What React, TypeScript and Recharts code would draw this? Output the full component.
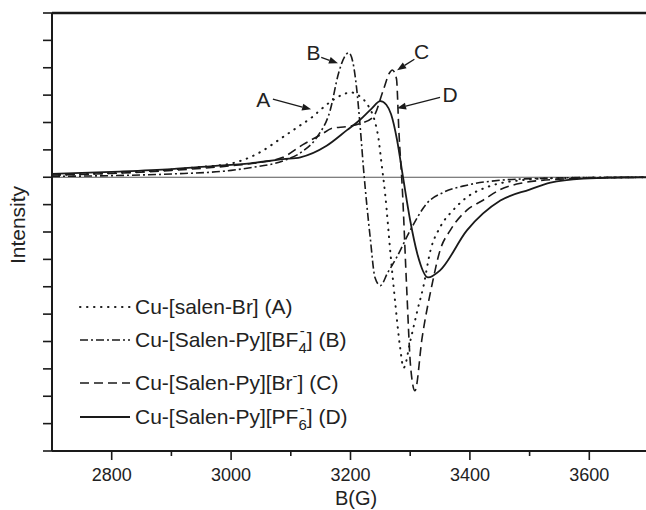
import { LineChart, Line, XAxis, YAxis, ReferenceLine, ReferenceDot } from "recharts";

// B(G) field positions and intensities for each spectrum
const fieldsA = [2700, 2800, 2900, 2950, 3000, 3044, 3087, 3116, 3136, 3149, 3166, 3185, 3200, 3216, 3230, 3240, 3247, 3252, 3258, 3267, 3275, 3283, 3289, 3300, 3312, 3322, 3334, 3350, 3372, 3395, 3430, 3480, 3550, 3700];
const intensityA = [0.08, 0.15, 0.28, 0.38, 0.5, 0.86, 1.47, 1.9, 2.2, 2.45, 2.75, 3.0, 3.1, 2.95, 2.6, 2.1, 1.4, 0.5, -0.6, -2.8, -4.6, -6.2, -6.96, -6.0, -4.87, -4.0, -2.67, -1.83, -1.2, -0.73, -0.35, -0.12, -0.03, 0];

const fieldsB = [2700, 2800, 2900, 3000, 3032, 3087, 3120, 3144, 3166, 3180, 3190, 3197, 3204, 3210, 3216, 3222, 3233, 3241, 3250, 3262, 3278, 3300, 3328, 3356, 3395, 3451, 3520, 3600, 3700];
const intensityB = [0.03, 0.06, 0.12, 0.25, 0.35, 0.6, 0.95, 1.47, 2.45, 3.8, 4.4, 4.55, 4.2, 3.3, 1.9, 0.26, -2.2, -3.66, -3.96, -3.5, -2.9, -1.94, -0.95, -0.55, -0.29, -0.11, -0.04, -0.01, 0];

const fieldsC = [2700, 2800, 2900, 3000, 3050, 3087, 3121, 3150, 3171, 3194, 3215, 3238, 3255, 3265, 3270, 3277, 3281, 3287, 3294, 3301, 3308, 3320, 3337, 3350, 3367, 3395, 3422, 3451, 3485, 3550, 3650, 3700];
const intensityC = [0.08, 0.14, 0.25, 0.42, 0.55, 0.73, 1.2, 1.55, 1.8, 1.85, 1.95, 2.2, 3.19, 3.8, 3.92, 3.6, 1.7, -0.5, -4.0, -7.0, -7.8, -5.86, -3.88, -2.67, -1.94, -1.2, -0.84, -0.45, -0.22, -0.07, -0.01, 0];

const fieldsD = [2700, 2800, 2900, 2965, 3032, 3087, 3116, 3160, 3194, 3216, 3235, 3250, 3260, 3268, 3278, 3288, 3300, 3312, 3330, 3350, 3395, 3451, 3500, 3535, 3590, 3650, 3700];
const intensityD = [0.12, 0.2, 0.3, 0.4, 0.51, 0.66, 0.73, 1.15, 1.72, 2.1, 2.5, 2.78, 2.65, 2.3, 1.36, 0, -1.58, -2.8, -3.66, -3.4, -1.94, -0.85, -0.45, -0.2, -0.05, -0.01, 0];

const xTicks = [2800, 2900, 3000, 3100, 3200, 3300, 3400, 3500, 3600];
const yTicks = [-10, -9, -8, -7, -6, -5, -4, -3, -2, -1, 0, 1, 2, 3, 4, 5, 6];

// peak labels: letter position, arrow tail, arrow head (data coords)
const annLetters = ["A", "B", "C", "D"];
const annLetterAt = [[3054, 2.81], [3138, 4.53], [3319, 4.57], [3367, 3.0]];
const annFrom = [[3070, 2.85], [3151, 4.38], [3307, 4.31], [3350, 2.92]];
const annTo = [[3134, 2.48], [3179, 4.16], [3278, 3.91], [3278, 2.52]];

const toRows = (fields: number[], vals: number[]) => fields.map((f, i) => ({ field: f, intensity: vals[i] }));

const series = [
  { key: "A", data: toRows(fieldsA, intensityA), dash: "0.5 6.5", width: 2, cap: "round" },
  { key: "B", data: toRows(fieldsB, intensityB), dash: "8 3 2 3", width: 1.6, cap: "butt" },
  { key: "C", data: toRows(fieldsC, intensityC), dash: "9 5", width: 1.6, cap: "butt" },
  { key: "D", data: toRows(fieldsD, intensityD), dash: undefined, width: 1.8, cap: "butt" },
];

const FONT = "'Liberation Sans', Arial, sans-serif";
const INK = "#1a1a1a";

const XTick = (props: any) => {
  const { x, y, payload } = props;
  const major = payload.value % 200 === 0;
  return (
    <g>
      <line x1={x} x2={x} y1={y} y2={y + (major ? 9 : 5)} stroke={INK} strokeWidth={1.6} />
      {major && (
        <text x={x} y={y + 30} textAnchor="middle" fontSize={18} fill="#222" fontFamily={FONT}>
          {payload.value}
        </text>
      )}
    </g>
  );
};

const YLabel = () => (
  <text x={0} y={0} transform="translate(25,225) rotate(-90)" textAnchor="middle" fontSize={21} fill="#222" fontFamily={FONT}>
    Intensity
  </text>
);

const XLabel = () => (
  <text x={356} y={505} textAnchor="middle" fontSize={20} fill="#222" fontFamily={FONT}>
    B(G)
  </text>
);

const arrowShape = (props: any) => {
  const { x1, y1, x2, y2 } = props;
  const a = Math.atan2(y2 - y1, x2 - x1);
  const L = 9;
  const W = 3.5;
  const bx = x2 - L * Math.cos(a);
  const by = y2 - L * Math.sin(a);
  const pts = `${x2},${y2} ${bx + W * Math.sin(a)},${by - W * Math.cos(a)} ${bx - W * Math.sin(a)},${by + W * Math.cos(a)}`;
  return (
    <g>
      <line x1={x1} y1={y1} x2={bx} y2={by} stroke={INK} strokeWidth={1.3} />
      <polygon points={pts} fill={INK} />
    </g>
  );
};

const LegendOverlay = () => {
  const lx1 = 80;
  const lx2 = 130;
  const tx = 135;
  const fs = 21;
  const ss = 15;
  return (
    <svg width={646} height={510} style={{ position: "absolute", left: 0, top: 0, pointerEvents: "none" }}>
      <g fontFamily={FONT} fontSize={fs} fill="#222">
        <line x1={lx1} x2={lx2} y1={307} y2={307} stroke={INK} strokeWidth={2} strokeDasharray="0.5 6.5" strokeLinecap="round" />
        <text x={tx} y={314}>Cu-[salen-Br] (A)</text>

        <line x1={lx1} x2={lx2} y1={340} y2={340} stroke={INK} strokeWidth={1.6} strokeDasharray="8 3 2 3" />
        <text x={tx} y={347}>
          Cu-[Salen-Py][BF
          <tspan fontSize={ss} dy={6}>4</tspan>
          <tspan fontSize={ss} dx={-7} dy={-17}>-</tspan>
          <tspan dx={2} dy={11}>] (B)</tspan>
        </text>

        <line x1={lx1} x2={lx2} y1={383} y2={383} stroke={INK} strokeWidth={1.6} strokeDasharray="9 5" />
        <text x={tx} y={390}>
          Cu-[Salen-Py][Br
          <tspan fontSize={ss} dy={-9}>-</tspan>
          <tspan dy={9}>] (C)</tspan>
        </text>

        <line x1={lx1} x2={lx2} y1={417} y2={417} stroke={INK} strokeWidth={1.8} />
        <text x={tx} y={424}>
          Cu-[Salen-Py][PF
          <tspan fontSize={ss} dy={6}>6</tspan>
          <tspan fontSize={ss} dx={-7} dy={-17}>-</tspan>
          <tspan dx={2} dy={11}>] (D)</tspan>
        </text>
      </g>
    </svg>
  );
};

export default function App() {
  return (
    <div style={{ position: "absolute", left: 0, top: 0, width: 646, height: 510, overflow: "hidden", background: "#fff", fontFamily: FONT }}>
      <LineChart width={660} height={510} margin={{ top: 13, right: 11, bottom: 0, left: 0 }}>
        <XAxis
          type="number"
          dataKey="field"
          domain={[2700, 3700]}
          ticks={xTicks}
          height={59}
          tickLine={false}
          tickSize={0}
          tickMargin={0}
          tick={<XTick />}
          axisLine={{ stroke: INK, strokeWidth: 2 }}
          label={<XLabel />}
        />
        <YAxis
          type="number"
          domain={[-10, 6]}
          ticks={yTicks}
          width={52}
          tickSize={9}
          tickFormatter={() => ""}
          tickLine={{ stroke: INK, strokeWidth: 1.6 }}
          axisLine={{ stroke: INK, strokeWidth: 2 }}
          label={<YLabel />}
        />
        <ReferenceLine y={6} stroke={INK} strokeWidth={2.5} />
        <ReferenceLine y={0} stroke="#555" strokeWidth={1} />
        {series.map((s) => (
          <Line
            key={s.key}
            data={s.data}
            dataKey="intensity"
            type="monotone"
            stroke={INK}
            strokeWidth={s.width}
            strokeDasharray={s.dash}
            strokeLinecap={s.cap as any}
            dot={false}
            activeDot={false}
            isAnimationActive={false}
          />
        ))}
        {annLetters.map((l, i) => (
          <ReferenceLine
            key={"arr" + l}
            segment={[
              { x: annFrom[i][0], y: annFrom[i][1] },
              { x: annTo[i][0], y: annTo[i][1] },
            ]}
            shape={arrowShape}
          />
        ))}
        {annLetters.map((l, i) => (
          <ReferenceDot
            key={"lbl" + l}
            x={annLetterAt[i][0]}
            y={annLetterAt[i][1]}
            r={0}
            shape={(p: any) => (
              <text x={p.cx} y={p.cy + 7} textAnchor="middle" fontSize={21} fill="#222" fontFamily={FONT}>
                {l}
              </text>
            )}
          />
        ))}
      </LineChart>
      <LegendOverlay />
    </div>
  );
}
